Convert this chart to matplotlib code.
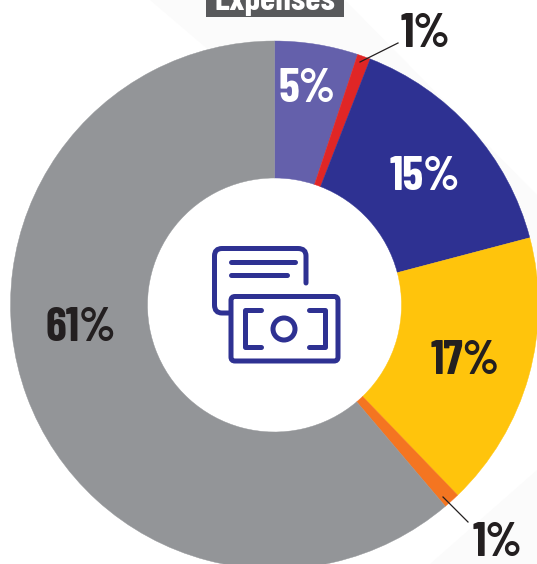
import matplotlib
matplotlib.use("Agg")
import matplotlib.pyplot as plt
from matplotlib.patches import Circle, FancyBboxPatch, PathPatch, Polygon, Rectangle
from matplotlib.path import Path

# clockwise from 12 o'clock
labels = ["5%", "1%", "15%", "17%", "1%", "61%"]
values = [5.1, 0.8, 15, 16.9, 1, 61.2]
colors = ["#6460ab", "#e02626", "#2e3192", "#ffc40c", "#f47521", "#939598"]
title = "Expenses"

W, H = 537, 564
DARK = "#231f20"
NAVY = "#2e3192"
FONT = ["Barlow Condensed", "Roboto", "DejaVu Sans"]


def py(y):
    # picture rows run downwards, the axes upwards
    return H - y


fig = plt.figure(figsize=(W / 100, H / 100), dpi=100)
ax = fig.add_axes([0, 0, 1, 1])

# faint background facets
ax.add_patch(Polygon([(150, py(0)), (345, py(0)), (537, py(195)), (537, py(330))],
                     closed=True, fc="#fbfbfb", ec="none", zorder=0))
ax.add_patch(Polygon([(430, py(564)), (537, py(470)), (537, py(564))],
                     closed=True, fc="#fbfbfb", ec="none", zorder=0))

wedges, _ = ax.pie(values, colors=colors, startangle=90, counterclock=False,
                   center=(274.5, py(305)), radius=264, frame=True,
                   wedgeprops=dict(width=137, linewidth=0))
# hide the hairline seams between slices
for w, c in zip(wedges, colors):
    w.set_edgecolor(c)
    w.set_linewidth(0.3)
ax.set_xlim(0, W)
ax.set_ylim(0, H)
ax.set_aspect("equal")
ax.axis("off")

# title tag, cut off by the top edge
ax.add_patch(Rectangle((206, py(17)), 138, 17, fc="#58595b", ec="none", zorder=3))
ax.text(275, py(1), title, color="white", fontsize=25, fontweight="bold", family=FONT,
        ha="center", va="center", zorder=4)

# leader lines
ax.plot([360, 398], [py(62), py(43)], color=DARK, lw=0.9, zorder=5)
ax.plot([443, 468], [py(497), py(522)], color=DARK, lw=0.9, zorder=5)

# value labels
label_pos = [(307, 85), (425, 30), (425, 173), (465, 357), (497, 539), (81, 324)]
label_col = ["white", DARK, "white", DARK, DARK, DARK]
for lab, (x, y), c in zip(labels, label_pos, label_col):
    ax.text(x, py(y), lab, color=c, fontsize=34, fontweight="bold", family=FONT,
            ha="center", va="center_baseline", zorder=6)

# money icon in the hole
lw = 3.6
line = dict(color=NAVY, lw=lw, solid_capstyle="round", solid_joinstyle="round", zorder=7)
card = Path([(231, py(313)), (222, py(313)), (214.5, py(313)), (214.5, py(305)),
             (214.5, py(256)), (214.5, py(248.5)), (222, py(248.5)),
             (298, py(248.5)), (306, py(248.5)), (306, py(256)), (306, py(283))],
            [Path.MOVETO, Path.LINETO, Path.CURVE3, Path.CURVE3,
             Path.LINETO, Path.CURVE3, Path.CURVE3,
             Path.LINETO, Path.CURVE3, Path.CURVE3, Path.LINETO])
ax.add_patch(PathPatch(card, fc="none", ec=NAVY, lw=lw, capstyle="round", zorder=7))
ax.add_patch(FancyBboxPatch((231, py(361)), 107, 64.5, boxstyle="round,pad=0,rounding_size=4",
                            fc="white", ec=NAVY, lw=lw, zorder=7))
ax.plot([230.5, 294.5], [py(262), py(262)], **line)
ax.plot([230.5, 287], [py(275), py(275)], **line)
ax.plot([261, 244.5, 244.5, 261], [py(310), py(310), py(347), py(347)], **line)
ax.plot([308.5, 325, 325, 308.5], [py(310), py(310), py(347), py(347)], **line)
ax.add_patch(Circle((284, py(329)), 11, fc="none", ec=NAVY, lw=lw, zorder=7))

fig.savefig("out.png", dpi=100)
